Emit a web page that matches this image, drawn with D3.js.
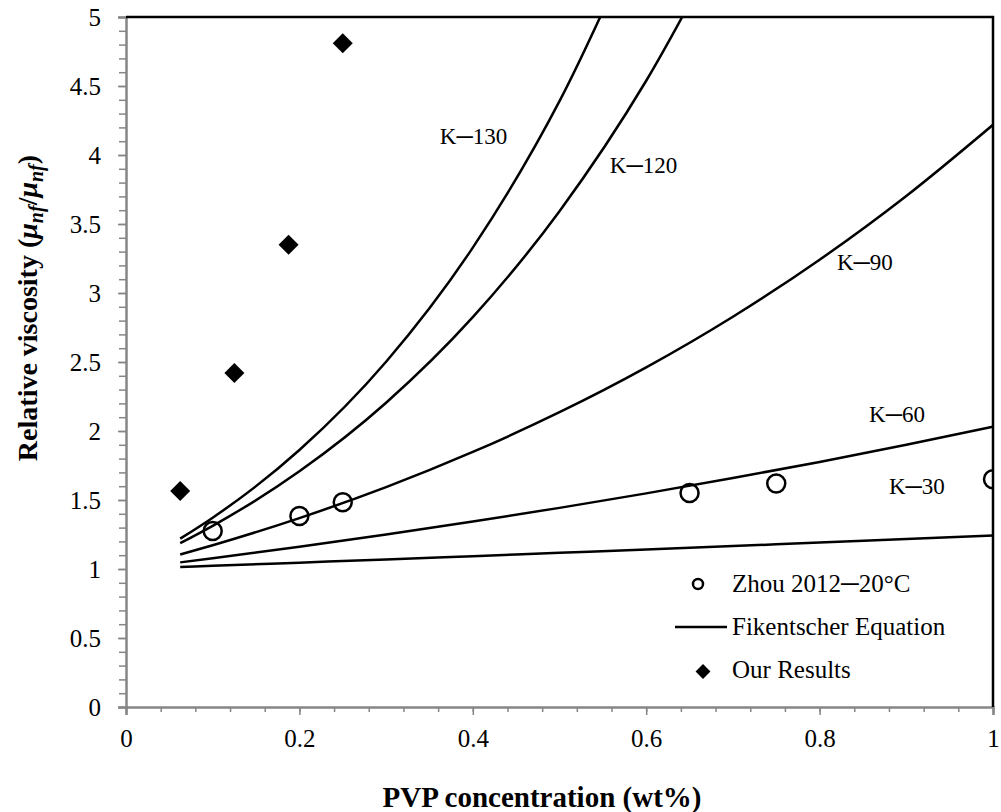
<!DOCTYPE html>
<html>
<head>
<meta charset="utf-8">
<script src="https://cdn.jsdelivr.net/npm/d3@7"></script>
<style>
  html, body { margin: 0; padding: 0; background: #fff; }
  svg { display: block; }
  svg text { font-family: "Liberation Serif", "Times New Roman", serif; }
</style>
</head>
<body>
<svg id="chart" width="1001" height="812"></svg>
<script>
// PVP concentration (wt%) sample points used for the Fikentscher curves
const curveX = [0.0625, 0.1, 0.2, 0.3, 0.4, 0.5, 0.6, 0.7, 0.8, 0.9, 1.0];

// Relative viscosity along each Fikentscher curve (K value)
const k30  = [1.014, 1.023, 1.046, 1.069, 1.093, 1.117, 1.141, 1.166, 1.192, 1.217, 1.243];
const k60  = [1.048, 1.078, 1.162, 1.250, 1.344, 1.443, 1.548, 1.659, 1.776, 1.900, 2.031];
const k90  = [1.105, 1.172, 1.369, 1.593, 1.848, 2.136, 2.461, 2.828, 3.241, 3.703, 4.219];
const k120 = [1.187, 1.313, 1.708, 2.205, 2.825, 3.593, 4.538, 5.694];
const k130 = [1.220, 1.372, 1.862, 2.502, 3.329, 4.390, 5.740];

const curveNames = ["K\u2500130", "K\u2500120", "K\u250090", "K\u250060", "K\u250030"];
const curveValues = [k130, k120, k90, k60, k30];
// label anchor (x, y in data units) for each curve name
const labelX = [0.362, 0.558, 0.820, 0.857, 0.880];
const labelY = [4.08, 3.867, 3.167, 2.067, 1.54];

// Zhou 2012 – 20°C measurements
const zhouX = [0.1, 0.2, 0.25, 0.65, 0.75, 1.0];
const zhouY = [1.275, 1.384, 1.483, 1.55, 1.62, 1.65];

// Our results
const oursX = [0.0625, 0.125, 0.1875, 0.25];
const oursY = [1.565, 2.42, 3.35, 4.81];

const xTickValues = [0, 0.2, 0.4, 0.6, 0.8, 1];
const xTickLabels = ["0", "0.2", "0.4", "0.6", "0.8", "1"];
const yTickValues = [0, 0.5, 1, 1.5, 2, 2.5, 3, 3.5, 4, 4.5, 5];
const yTickLabels = ["0", "0.5", "1", "1.5", "2", "2.5", "3", "3.5", "4", "4.5", "5"];

const legendLabels = ["Zhou 2012\u250020\u00B0C", "Fikentscher Equation", "Our Results"];

const svg = d3.select("#chart");
const plot = { left: 126, right: 993, top: 17, bottom: 707 };

const x = d3.scaleLinear().domain([0, 1]).range([plot.left, plot.right]);
const y = d3.scaleLinear().domain([0, 5]).range([plot.bottom, plot.top]);

const axisColor = "#868686";

svg.append("defs").append("clipPath").attr("id", "plotClip")
  .append("rect")
  .attr("x", plot.left).attr("y", plot.top)
  .attr("width", plot.right - plot.left).attr("height", plot.bottom - plot.top);

// Minor ticks
const xMinor = d3.range(0, 1.0001, 0.04);
const yMinor = d3.range(0, 5.0001, 0.1);

const xAxisMinor = d3.axisBottom(x).tickValues(xMinor).tickSize(5).tickFormat("");
const yAxisMinor = d3.axisLeft(y).tickValues(yMinor).tickSize(7).tickFormat("");

svg.append("g").attr("transform", `translate(0,${plot.bottom})`).call(xAxisMinor)
  .call(g => g.select(".domain").remove())
  .call(g => g.selectAll("line").attr("stroke", axisColor).attr("stroke-width", 1.5));
svg.append("g").attr("transform", `translate(${plot.left},0)`).call(yAxisMinor)
  .call(g => g.select(".domain").remove())
  .call(g => g.selectAll("line").attr("stroke", axisColor).attr("stroke-width", 1.5));

// Major axes
const xAxis = d3.axisBottom(x).tickValues(xTickValues).tickSize(8).tickPadding(14)
  .tickFormat((d, i) => xTickLabels[i]);
const yAxis = d3.axisLeft(y).tickValues(yTickValues).tickSize(8).tickPadding(17)
  .tickFormat((d, i) => yTickLabels[i]);

svg.append("g").attr("transform", `translate(0,${plot.bottom})`).call(xAxis)
  .call(g => g.select(".domain").attr("stroke", axisColor).attr("stroke-width", 2.5))
  .call(g => g.selectAll("line").attr("stroke", axisColor).attr("stroke-width", 1.5))
  .call(g => g.selectAll("text").attr("font-size", 25).attr("fill", "#000"));

svg.append("g").attr("transform", `translate(${plot.left},0)`).call(yAxis)
  .call(g => g.select(".domain").attr("stroke", axisColor).attr("stroke-width", 2.5))
  .call(g => g.selectAll("line").attr("stroke", axisColor).attr("stroke-width", 1.5))
  .call(g => g.selectAll("text").attr("font-size", 25).attr("fill", "#000"));

// Top and right frame
svg.append("path")
  .attr("d", `M${plot.left},${plot.top}H${plot.right}V${plot.bottom}`)
  .attr("fill", "none").attr("stroke", "#000").attr("stroke-width", 2.5);

// Fikentscher curves
const line = d3.line().x(d => x(d[0])).y(d => y(d[1])).curve(d3.curveMonotoneX);
const curves = svg.append("g").attr("clip-path", "url(#plotClip)");
curveValues.forEach(vals => {
  curves.append("path")
    .datum(vals.map((v, i) => [curveX[i], v]))
    .attr("d", line)
    .attr("fill", "none").attr("stroke", "#000").attr("stroke-width", 2.5);
});

// Curve labels
svg.append("g").selectAll("text").data(curveNames).join("text")
  .attr("x", (d, i) => x(labelX[i]))
  .attr("y", (d, i) => y(labelY[i]))
  .attr("font-size", 23)
  .attr("fill", "#000")
  .text(d => d);

// Zhou 2012 circles
svg.append("g").attr("clip-path", "url(#plotClip)")
  .selectAll("circle").data(zhouX).join("circle")
  .attr("cx", d => x(d))
  .attr("cy", (d, i) => y(zhouY[i]))
  .attr("r", 9)
  .attr("fill", "none").attr("stroke", "#000").attr("stroke-width", 2.5);

// Our results diamonds
const diamond = d3.symbol().type(d3.symbolSquare).size(200);
svg.append("g").selectAll("path").data(oursX).join("path")
  .attr("transform", (d, i) => `translate(${x(d)},${y(oursY[i])}) rotate(45)`)
  .attr("d", diamond)
  .attr("fill", "#000");

// Legend
const legend = svg.append("g").attr("transform", "translate(675,0)");
legend.append("circle").attr("cx", 23).attr("cy", 584).attr("r", 5)
  .attr("fill", "none").attr("stroke", "#000").attr("stroke-width", 2.5);
legend.append("line").attr("x1", 0).attr("x2", 52).attr("y1", 627).attr("y2", 627)
  .attr("stroke", "#000").attr("stroke-width", 2.5);
legend.append("path").attr("transform", "translate(28,671.5) rotate(45)")
  .attr("d", d3.symbol().type(d3.symbolSquare).size(110)).attr("fill", "#000");
legend.selectAll("text").data(legendLabels).join("text")
  .attr("x", 57)
  .attr("y", (d, i) => [592, 635, 678][i])
  .attr("font-size", 25)
  .attr("fill", "#000")
  .text(d => d);

// Axis titles
svg.append("text")
  .attr("x", 542).attr("y", 807)
  .attr("text-anchor", "middle")
  .attr("font-size", 29).attr("font-weight", "bold")
  .text("PVP concentration (wt%)");

const yTitle = svg.append("text")
  .attr("transform", "translate(37,308) rotate(-90)")
  .attr("text-anchor", "middle")
  .attr("font-size", 28).attr("font-weight", "bold");
yTitle.append("tspan").text("Relative viscosity (");
yTitle.append("tspan").attr("font-style", "italic").text("\u03BC");
yTitle.append("tspan").attr("font-style", "italic").attr("font-size", 20).attr("dy", 6).text("nf");
yTitle.append("tspan").attr("dy", -6).text("/");
yTitle.append("tspan").attr("font-style", "italic").text("\u03BC");
yTitle.append("tspan").attr("font-style", "italic").attr("font-size", 20).attr("dy", 6).text("nf");
yTitle.append("tspan").attr("dy", -6).text(")");
</script>
</body>
</html>
